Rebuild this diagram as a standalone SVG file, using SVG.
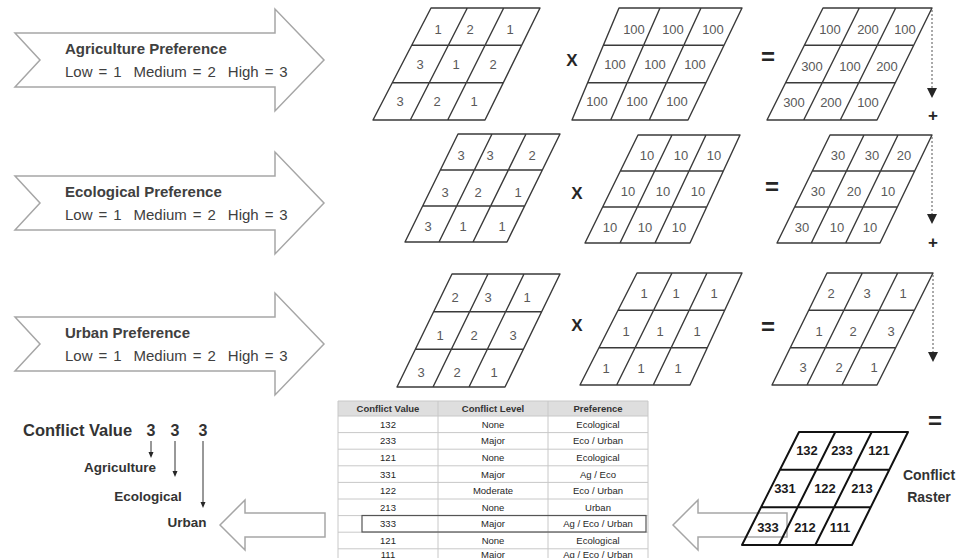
<svg xmlns="http://www.w3.org/2000/svg" width="963" height="558" viewBox="0 0 963 558">
<defs>
<style>
.chev{fill:#fff;stroke:#a6a6a6;stroke-width:1.5;stroke-linejoin:miter}
.ct{font-family:"Liberation Sans",Arial,sans-serif;fill:#404040;white-space:pre}
.ctb{font-weight:bold;font-size:15px}
.ctr{font-size:15px;word-spacing:1.8px}
.grid{fill:none;stroke:#3a3a3a;stroke-width:1.4;stroke-linejoin:round}
.cgrid{fill:none;stroke:#111;stroke-width:2;stroke-linejoin:round}
.num{font-family:"Liberation Sans",Arial,sans-serif;font-size:13px;fill:#595959;text-anchor:middle}
.cnum{font-family:"Liberation Sans",Arial,sans-serif;font-size:13px;fill:#1a1a1a;font-weight:bold;text-anchor:middle}
.op{font-family:"Liberation Sans",Arial,sans-serif;font-weight:bold;fill:#262626;text-anchor:middle}
.dot{stroke:#555;stroke-width:1;stroke-dasharray:2,2;fill:none}
.head{fill:#262626}
.hollow{fill:#fff;stroke:#a6a6a6;stroke-width:1.5}
.thin{stroke:#333;stroke-width:1;fill:none}
.lbl{font-family:"Liberation Sans",Arial,sans-serif;font-weight:bold;fill:#333}
.tl{stroke:#c8c8c8;stroke-width:1;fill:none}
.th{font-family:"Liberation Sans",Arial,sans-serif;font-size:9.5px;font-weight:bold;fill:#333;text-anchor:middle}
.td{font-family:"Liberation Sans",Arial,sans-serif;font-size:9.5px;fill:#262626;text-anchor:middle}
</style>
</defs>
<rect width="963" height="558" fill="#fff"/>

<g id="agri-pref">
<path class="chev" d="M15,33 L275,33 L275,9 L324,60 L275,111 L275,87 L15,87 L40,60 Z"/>
<text class="ct ctb" x="65" y="54">Agriculture Preference</text>
<text class="ct ctr" x="65" y="77">Low = 1  Medium = 2  High = 3</text>
</g>
<g id="eco-pref">
<path class="chev" d="M15,176 L275,176 L275,152 L324,203 L275,254 L275,230 L15,230 L40,203 Z"/>
<text class="ct ctb" x="65" y="197">Ecological Preference</text>
<text class="ct ctr" x="65" y="220">Low = 1  Medium = 2  High = 3</text>
</g>
<g id="urban-pref">
<path class="chev" d="M15,317 L275,317 L275,293 L324,344 L275,395 L275,371 L15,371 L40,344 Z"/>
<text class="ct ctb" x="65" y="338">Urban Preference</text>
<text class="ct ctr" x="65" y="361">Low = 1  Medium = 2  High = 3</text>
</g>

<g id="grid-agri">
<path class="grid" d="M431,8 L540,8 L485,120 L373,120 Z M467.3,8 L410.3,120 M503.7,8 L447.7,120 M411.7,45.3 L521.7,45.3 M392.3,82.7 L503.3,82.7"/>
<text class="num" x="438" y="34">1</text><text class="num" x="470" y="34">2</text><text class="num" x="510" y="34">1</text>
<text class="num" x="420" y="69">3</text><text class="num" x="456" y="69">1</text><text class="num" x="493" y="69">2</text>
<text class="num" x="400" y="106">3</text><text class="num" x="437" y="106">2</text><text class="num" x="474" y="106">1</text>
</g>
<g id="weight-agri">
<path class="grid" d="M619,8 L742,8 L688,120 L572,120 Z M660,8 L610.7,120 M701,8 L649.3,120 M603.3,45.3 L724,45.3 M587.7,82.7 L706,82.7"/>
<text class="num" x="634" y="34">100</text><text class="num" x="673" y="34">100</text><text class="num" x="713" y="34">100</text>
<text class="num" x="615" y="69">100</text><text class="num" x="655" y="69">100</text><text class="num" x="695" y="69">100</text>
<text class="num" x="597" y="106">100</text><text class="num" x="637" y="106">100</text><text class="num" x="677" y="106">100</text>
</g>
<g id="result-agri">
<path class="grid" d="M823,8 L932,8 L877,120 L767,120 Z M859.3,8 L803.7,120 M895.7,8 L840.3,120 M804.3,45.3 L913.7,45.3 M785.7,82.7 L895.3,82.7"/>
<text class="num" x="830" y="34">100</text><text class="num" x="868" y="34">200</text><text class="num" x="905" y="34">100</text>
<text class="num" x="812" y="71">300</text><text class="num" x="850" y="71">100</text><text class="num" x="887" y="71">200</text>
<text class="num" x="794" y="107">300</text><text class="num" x="831" y="107">200</text><text class="num" x="868" y="107">100</text>
</g>

<g id="grid-eco">
<path class="grid" d="M458,134 L560,134 L507,242 L405,242 Z M492,134 L439,242 M526,134 L473,242 M440.3,170 L542.3,170 M422.7,206 L524.7,206"/>
<text class="num" x="461" y="160">3</text><text class="num" x="490" y="160">3</text><text class="num" x="532" y="160">2</text>
<text class="num" x="445" y="197">3</text><text class="num" x="478" y="197">2</text><text class="num" x="518" y="197">1</text>
<text class="num" x="428" y="231">3</text><text class="num" x="463" y="231">1</text><text class="num" x="502" y="231">1</text>
</g>
<g id="weight-eco">
<path class="grid" d="M638,135 L740,135 L690,243 L585,243 Z M672,135 L620,243 M706,135 L655,243 M620.3,171 L723.3,171 M602.7,207 L706.7,207"/>
<text class="num" x="647" y="159.5">10</text><text class="num" x="681" y="159.5">10</text><text class="num" x="714" y="159.5">10</text>
<text class="num" x="628" y="195.5">10</text><text class="num" x="663" y="195.5">10</text><text class="num" x="698" y="195.5">10</text>
<text class="num" x="610" y="231.5">10</text><text class="num" x="645" y="231.5">10</text><text class="num" x="679" y="231.5">10</text>
</g>
<g id="result-eco">
<path class="grid" d="M830,135 L932,135 L880,243 L777,243 Z M864,135 L811.3,243 M898,135 L845.7,243 M812.3,171 L914.7,171 M794.7,207 L897.3,207"/>
<text class="num" x="838" y="159.5">30</text><text class="num" x="872" y="159.5">30</text><text class="num" x="904" y="159.5">20</text>
<text class="num" x="818" y="195.5">30</text><text class="num" x="854" y="195.5">20</text><text class="num" x="888" y="195.5">10</text>
<text class="num" x="802" y="231.5">30</text><text class="num" x="837" y="231.5">10</text><text class="num" x="870" y="231.5">10</text>
</g>

<g id="grid-urban">
<path class="grid" d="M452,274 L560,274 L505,387 L397,387 Z M488,274 L433,387 M524,274 L469,387 M433.7,311.7 L541.7,311.7 M415.3,349.3 L523.3,349.3"/>
<text class="num" x="455" y="302">2</text><text class="num" x="488" y="302">3</text><text class="num" x="527" y="302">1</text>
<text class="num" x="440" y="339.5">1</text><text class="num" x="474" y="339.5">2</text><text class="num" x="513" y="339.5">3</text>
<text class="num" x="421" y="377">3</text><text class="num" x="457" y="377">2</text><text class="num" x="494" y="377">1</text>
</g>
<g id="weight-urban">
<path class="grid" d="M637,273 L742,273 L690,385 L580,385 Z M672,273 L616.7,385 M707,273 L653.3,385 M618,310.3 L724.7,310.3 M599,347.7 L707.3,347.7"/>
<text class="num" x="644" y="298">1</text><text class="num" x="676" y="298">1</text><text class="num" x="714" y="298">1</text>
<text class="num" x="626" y="335.5">1</text><text class="num" x="660" y="335.5">1</text><text class="num" x="697" y="335.5">1</text>
<text class="num" x="606" y="373">1</text><text class="num" x="641" y="373">1</text><text class="num" x="678" y="373">1</text>
</g>
<g id="result-urban">
<path class="grid" d="M827,273 L933,273 L877,385 L772,385 Z M862.3,273 L807,385 M897.7,273 L842,385 M808.7,310.3 L914.3,310.3 M790.3,347.7 L895.7,347.7"/>
<text class="num" x="831" y="298">2</text><text class="num" x="867" y="298">3</text><text class="num" x="903" y="298">1</text>
<text class="num" x="819" y="336">1</text><text class="num" x="853" y="336">2</text><text class="num" x="891" y="336">3</text>
<text class="num" x="803" y="372">3</text><text class="num" x="839" y="372">2</text><text class="num" x="874" y="372">1</text>
</g>

<g id="operators">
<text class="op" x="572" y="66" font-size="17">X</text>
<text class="op" x="577" y="199" font-size="17">X</text>
<text class="op" x="577" y="331" font-size="17">X</text>
<text class="op" x="768" y="65" font-size="24">=</text>
<text class="op" x="772" y="195" font-size="24">=</text>
<text class="op" x="768" y="335" font-size="24">=</text>
<text class="op" x="935" y="429" font-size="24">=</text>
<text class="op" x="933" y="121" font-size="17">+</text>
<text class="op" x="933" y="248" font-size="17">+</text>
</g>

<g id="connectors">
<path class="dot" d="M932,10 L932,88 M932,137 L932,214 M933,275 L933,352"/>
<path class="head" d="M927,88 L937,88 L932,98 Z M927,214 L937,214 L932,224 Z M928,352 L938,352 L933,362 Z"/>
<path class="hollow" d="M673,525 L698,500 L698,513 L787,513 L787,537 L698,537 L698,550 Z"/>
<path class="hollow" d="M220,525 L245,500 L245,513 L325,513 L325,537 L245,537 L245,550 Z"/>
<path class="thin" d="M151,441 L151,453 M175,441 L175,472 M203,441 L203,503"/>
<path class="head" d="M148.5,452 L153.5,452 L151,458 Z M172.5,471 L177.5,471 L175,477 Z M200.5,502 L205.5,502 L203,508 Z"/>
</g>

<g id="conflict-raster">
<path class="cgrid" d="M799,432 L908,432 L852,545 L742,545 Z M835.3,432 L778.7,545 M871.7,432 L815.3,545 M780,469.7 L889.3,469.7 M761,507.3 L870.7,507.3"/>
<text class="cnum" x="807" y="455">132</text><text class="cnum" x="842" y="455">233</text><text class="cnum" x="879" y="455">121</text>
<text class="cnum" x="785" y="493">331</text><text class="cnum" x="825" y="493">122</text><text class="cnum" x="862" y="493">213</text>
<text class="cnum" x="768" y="531.5">333</text><text class="cnum" x="805" y="531.5">212</text><text class="cnum" x="840" y="531.5">111</text>
<text class="lbl" x="929" y="480" font-size="14" text-anchor="middle">Conflict</text>
<text class="lbl" x="929" y="502" font-size="14" text-anchor="middle">Raster</text>
</g>

<g id="conflict-value">
<text class="lbl" x="23" y="436" font-size="16.5">Conflict Value</text>
<text class="lbl" x="151" y="436" font-size="16" text-anchor="middle">3</text>
<text class="lbl" x="175" y="436" font-size="16" text-anchor="middle">3</text>
<text class="lbl" x="203" y="436" font-size="16" text-anchor="middle">3</text>
<text class="lbl" x="120" y="472" font-size="13.5" text-anchor="middle">Agriculture</text>
<text class="lbl" x="148" y="501" font-size="13.5" text-anchor="middle">Ecological</text>
<text class="lbl" x="187" y="527" font-size="13.5" text-anchor="middle">Urban</text>
</g>

<g id="conflict-table">
<rect x="338" y="401" width="310" height="15" fill="#dedede"/>
<path class="tl" d="M338,401 L648,401 M338,416 L648,416 M338,432.6 L648,432.6 M338,449.2 L648,449.2 M338,465.8 L648,465.8 M338,482.4 L648,482.4 M338,499 L648,499 M338,515.6 L648,515.6 M338,532.2 L648,532.2 M338,548.8 L648,548.8 M338,401 L338,558 M438,401 L438,558 M548,401 L548,558 M648,401 L648,558"/>
<text class="th" x="388" y="412">Conflict Value</text><text class="th" x="493" y="412">Conflict Level</text><text class="th" x="598" y="412">Preference</text>
<text class="td" x="388" y="427.8">132</text><text class="td" x="493" y="427.8">None</text><text class="td" x="598" y="427.8">Ecological</text>
<text class="td" x="388" y="444.4">233</text><text class="td" x="493" y="444.4">Major</text><text class="td" x="598" y="444.4">Eco / Urban</text>
<text class="td" x="388" y="461">121</text><text class="td" x="493" y="461">None</text><text class="td" x="598" y="461">Ecological</text>
<text class="td" x="388" y="477.6">331</text><text class="td" x="493" y="477.6">Major</text><text class="td" x="598" y="477.6">Ag / Eco</text>
<text class="td" x="388" y="494.2">122</text><text class="td" x="493" y="494.2">Moderate</text><text class="td" x="598" y="494.2">Eco / Urban</text>
<text class="td" x="388" y="510.8">213</text><text class="td" x="493" y="510.8">None</text><text class="td" x="598" y="510.8">Urban</text>
<text class="td" x="388" y="527.4">333</text><text class="td" x="493" y="527.4">Major</text><text class="td" x="598" y="527.4">Ag / Eco / Urban</text>
<text class="td" x="388" y="544">121</text><text class="td" x="493" y="544">None</text><text class="td" x="598" y="544">Ecological</text>
<text class="td" x="388" y="557.5">111</text><text class="td" x="493" y="557.5">Major</text><text class="td" x="598" y="557.5">Ag / Eco / Urban</text>
<rect x="362" y="515.5" width="284" height="16.5" fill="none" stroke="#555" stroke-width="1.2"/>
</g>
</svg>
